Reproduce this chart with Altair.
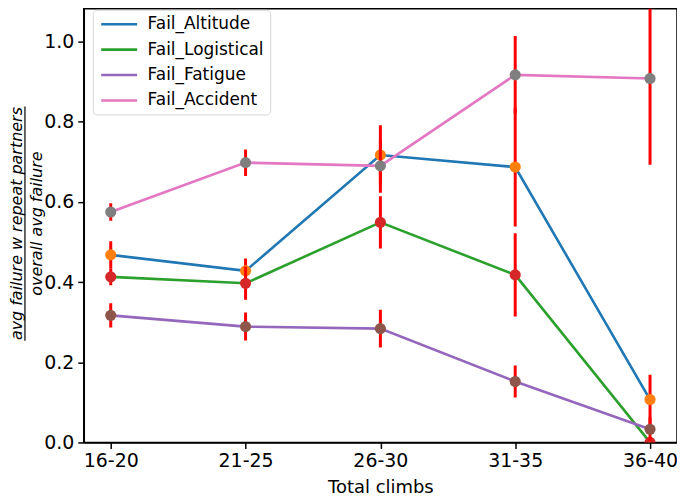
import altair as alt
import pandas as pd

categories = ["16-20", "21-25", "26-30", "31-35", "36-40"]
series_names = ["Fail_Altitude", "Fail_Logistical", "Fail_Fatigue", "Fail_Accident"]

altitude = [0.468, 0.428, 0.717, 0.687, 0.107]
altitude_err = [0.034, 0.031, 0.074, 0.148, 0.062]
logistical = [0.413, 0.397, 0.549, 0.418, 0.0]
logistical_err = [0.021, 0.041, 0.065, 0.104, 0.0]
fatigue = [0.317, 0.289, 0.284, 0.152, 0.033]
fatigue_err = [0.030, 0.035, 0.047, 0.040, 0.030]
accident = [0.575, 0.698, 0.690, 0.917, 0.908]
accident_err = [0.022, 0.033, 0.067, 0.097, 0.215]

line_colors = ["#1f77b4", "#2ca02c", "#9467bd", "#e377c2"]
point_colors = ["#ff7f0e", "#d62728", "#8c564b", "#7f7f7f"]
y_ticks = [0.0, 0.2, 0.4, 0.6, 0.8, 1.0]

rows = []
for name, vals, errs in zip(series_names,
                            [altitude, logistical, fatigue, accident],
                            [altitude_err, logistical_err, fatigue_err, accident_err]):
    for c, v, e in zip(categories, vals, errs):
        rows.append(dict(series=name, climbs=c, value=v, lower=v - e, upper=v + e))
df = pd.DataFrame(rows)

FONT = "DejaVu Sans"

x_enc = alt.X("climbs:N", sort=categories,
              scale=alt.Scale(type="point", padding=0.2),
              axis=alt.Axis(title="Total climbs", labelAngle=0, labelFontSize=19,
                            labelPadding=3, tickSize=6, titleFontSize=18,
                            titlePadding=8, titleFontWeight="normal"))
y_scale = alt.Scale(domain=[0, 1.082], nice=False, zero=False)
y_axis = alt.Axis(values=y_ticks, format=".1f", labelFontSize=19, labelPadding=4,
                  tickSize=6, grid=False,
                  title=["avg failure w repeat partners", "overall avg failure"],
                  titleFontSize=16, titleFontStyle="italic", titleFontWeight="normal",
                  titleAngle=270, titleAlign="center", titleBaseline="top",
                  titleX=-75, titleY=215, titleLineHeight=20)

legend = alt.Legend(title=None, orient="none", legendX=9, legendY=1,
                    symbolType="M-1,0H5", symbolSize=144, symbolStrokeWidth=2.6,
                    labelFontSize=17, labelFont=FONT, labelOffset=32,
                    rowPadding=7.5, padding=6,
                    strokeColor="#d6d6d6", fillColor="white", cornerRadius=4)

color_enc = alt.Color("series:N", scale=alt.Scale(domain=series_names, range=line_colors),
                      legend=legend)
fill_enc = alt.Fill("series:N", scale=alt.Scale(domain=series_names, range=point_colors),
                    legend=None)

layers = []
for name in series_names:
    base = alt.Chart(df).transform_filter(alt.datum.series == name)
    line = base.mark_line(strokeWidth=2.6, clip=True).encode(
        x=x_enc, y=alt.Y("value:Q", scale=y_scale, axis=y_axis), color=color_enc)
    err = base.mark_rule(color="#ff0000", strokeWidth=3, clip=True).encode(
        x=x_enc, y=alt.Y("lower:Q", scale=y_scale, axis=y_axis), y2="upper:Q")
    pts = base.mark_circle(size=125, opacity=1, clip=True).encode(
        x=x_enc, y=alt.Y("value:Q", scale=y_scale, axis=y_axis), fill=fill_enc)
    layers += [line, err, pts]

frac = alt.Chart(pd.DataFrame({"k": [0]})).mark_rule(color="black", strokeWidth=1.2).encode(
    x=alt.value(-59), y=alt.value(98), y2=alt.value(333))

chart = alt.layer(*layers, frac).properties(
    width=595, height=435,
    autosize=alt.AutoSizeParams(type="none"),
    padding={"left": 76, "top": 0, "right": 0, "bottom": 54},
).configure_view(stroke="black", strokeWidth=1.5).configure_axis(
    labelFont=FONT, titleFont=FONT, labelColor="black", titleColor="black",
    domainColor="black", domainWidth=1.5, tickColor="black", tickWidth=1.5,
).configure_legend(labelColor="black")

chart.save("out.html", embed_options={"renderer": "svg", "actions": False})
